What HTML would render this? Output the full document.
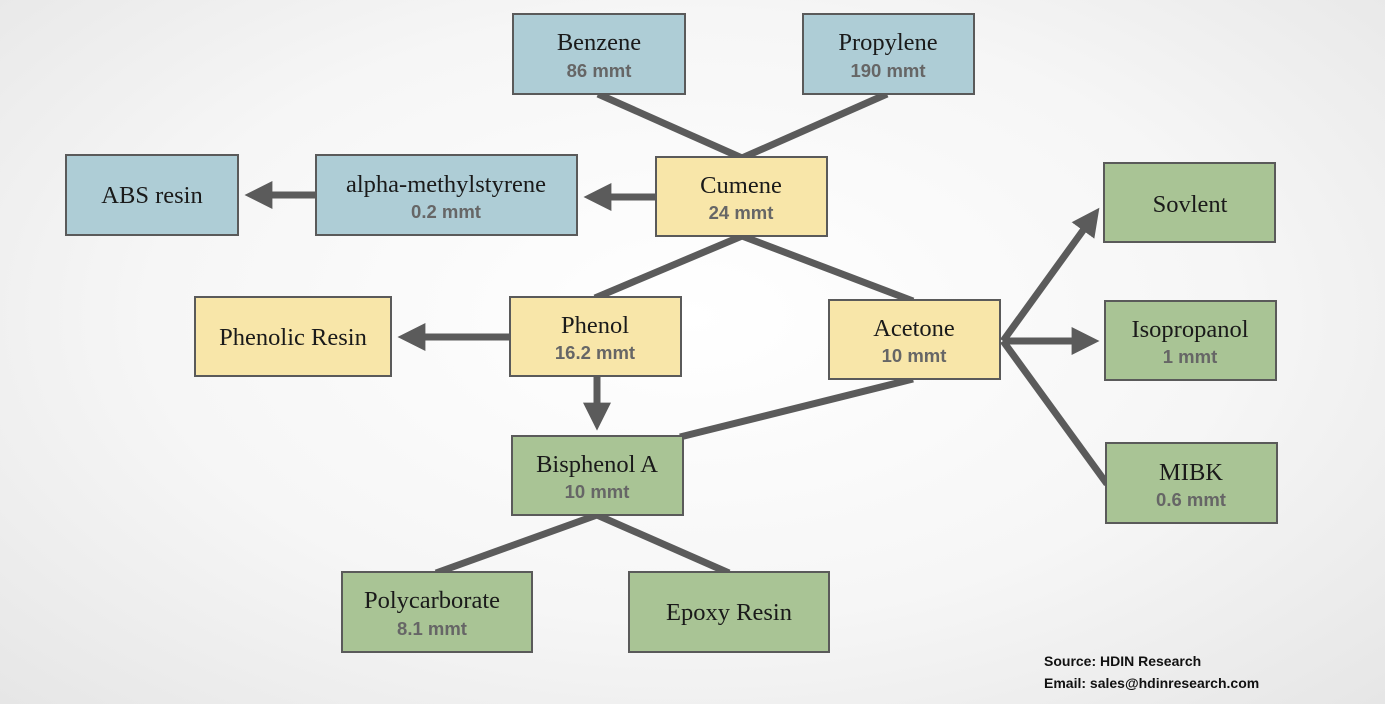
<!DOCTYPE html>
<html><head><meta charset="utf-8"><style>
body{margin:0;width:1385px;height:704px;overflow:hidden;background:radial-gradient(ellipse at 50% 45%,#ffffff 0%,#f6f6f6 55%,#e6e6e6 100%);}
svg{position:absolute;left:0;top:0}
.t{font-family:"Liberation Serif",serif;font-size:24.5px;fill:#1a1a1a;text-anchor:middle}
.s{font-family:"Liberation Sans",sans-serif;font-size:18.5px;font-weight:bold;fill:#666;text-anchor:middle}
.b{fill:#aecdd6}.y{fill:#f8e6a9}.g{fill:#a9c495}
rect{stroke:#5a5a5a;stroke-width:2}
line{stroke:#5b5b5b;stroke-width:7}
</style></head><body>
<svg width="1385" height="704">
<defs><marker id="a" markerWidth="4" markerHeight="4" refX="2.2" refY="2" orient="auto" markerUnits="strokeWidth"><path d="M0,0 L4,2 L0,4 Z" fill="#5b5b5b"/></marker></defs>
<line x1="598" y1="94" x2="742" y2="158"/>
<line x1="887" y1="94" x2="742" y2="158"/>
<line x1="742" y1="236" x2="595" y2="298"/>
<line x1="742" y1="236" x2="913" y2="301"/>
<line x1="656" y1="197" x2="596" y2="197" marker-end="url(#a)"/>
<line x1="316" y1="195" x2="257" y2="195" marker-end="url(#a)"/>
<line x1="510" y1="337" x2="410" y2="337" marker-end="url(#a)"/>
<line x1="597" y1="377" x2="597" y2="418" marker-end="url(#a)"/>
<line x1="913" y1="379" x2="680" y2="437"/>
<line x1="1003" y1="341" x2="1092" y2="218" marker-end="url(#a)"/>
<line x1="1003" y1="341" x2="1087" y2="341" marker-end="url(#a)"/>
<line x1="1003" y1="341" x2="1107" y2="484"/>
<line x1="597" y1="515" x2="436" y2="573"/>
<line x1="597" y1="515" x2="729" y2="573"/>
<rect class="b" x="513" y="14" width="172" height="80"/><text class="t" x="599" y="50">Benzene</text><text class="s" x="599" y="77">86 mmt</text>
<rect class="b" x="803" y="14" width="171" height="80"/><text class="t" x="888" y="50">Propylene</text><text class="s" x="888" y="77">190 mmt</text>
<rect class="b" x="66" y="155" width="172" height="80"/><text class="t" x="152" y="203">ABS resin</text>
<rect class="b" x="316" y="155" width="261" height="80"/><text class="t" x="446" y="192">alpha-methylstyrene</text><text class="s" x="446" y="218">0.2 mmt</text>
<rect class="y" x="656" y="157" width="171" height="79"/><text class="t" x="741" y="193">Cumene</text><text class="s" x="741" y="219">24 mmt</text>
<rect class="g" x="1104" y="163" width="171" height="79"/><text class="t" x="1190" y="212">Sovlent</text>
<rect class="y" x="195" y="297" width="196" height="79"/><text class="t" x="293" y="345">Phenolic Resin</text>
<rect class="y" x="510" y="297" width="171" height="79"/><text class="t" x="595" y="333">Phenol</text><text class="s" x="595" y="359">16.2 mmt</text>
<rect class="y" x="829" y="300" width="171" height="79"/><text class="t" x="914" y="336">Acetone</text><text class="s" x="914" y="362">10 mmt</text>
<rect class="g" x="1105" y="301" width="171" height="79"/><text class="t" x="1190" y="337">Isopropanol</text><text class="s" x="1190" y="363">1 mmt</text>
<rect class="g" x="512" y="436" width="171" height="79"/><text class="t" x="597" y="472">Bisphenol A</text><text class="s" x="597" y="498">10 mmt</text>
<rect class="g" x="1106" y="443" width="171" height="80"/><text class="t" x="1191" y="480">MIBK</text><text class="s" x="1191" y="506">0.6 mmt</text>
<rect class="g" x="342" y="572" width="190" height="80"/><text class="t" x="432" y="608">Polycarborate</text><text class="s" x="432" y="635">8.1 mmt</text>
<rect class="g" x="629" y="572" width="200" height="80"/><text class="t" x="729" y="620">Epoxy Resin</text>
<text x="1044" y="666" style="font-family:'Liberation Sans',sans-serif;font-size:14px;font-weight:bold;fill:#111">Source: HDIN Research</text>
<text x="1044" y="688" style="font-family:'Liberation Sans',sans-serif;font-size:14px;font-weight:bold;fill:#111">Email: sales@hdinresearch.com</text>
</svg>
</body></html>
